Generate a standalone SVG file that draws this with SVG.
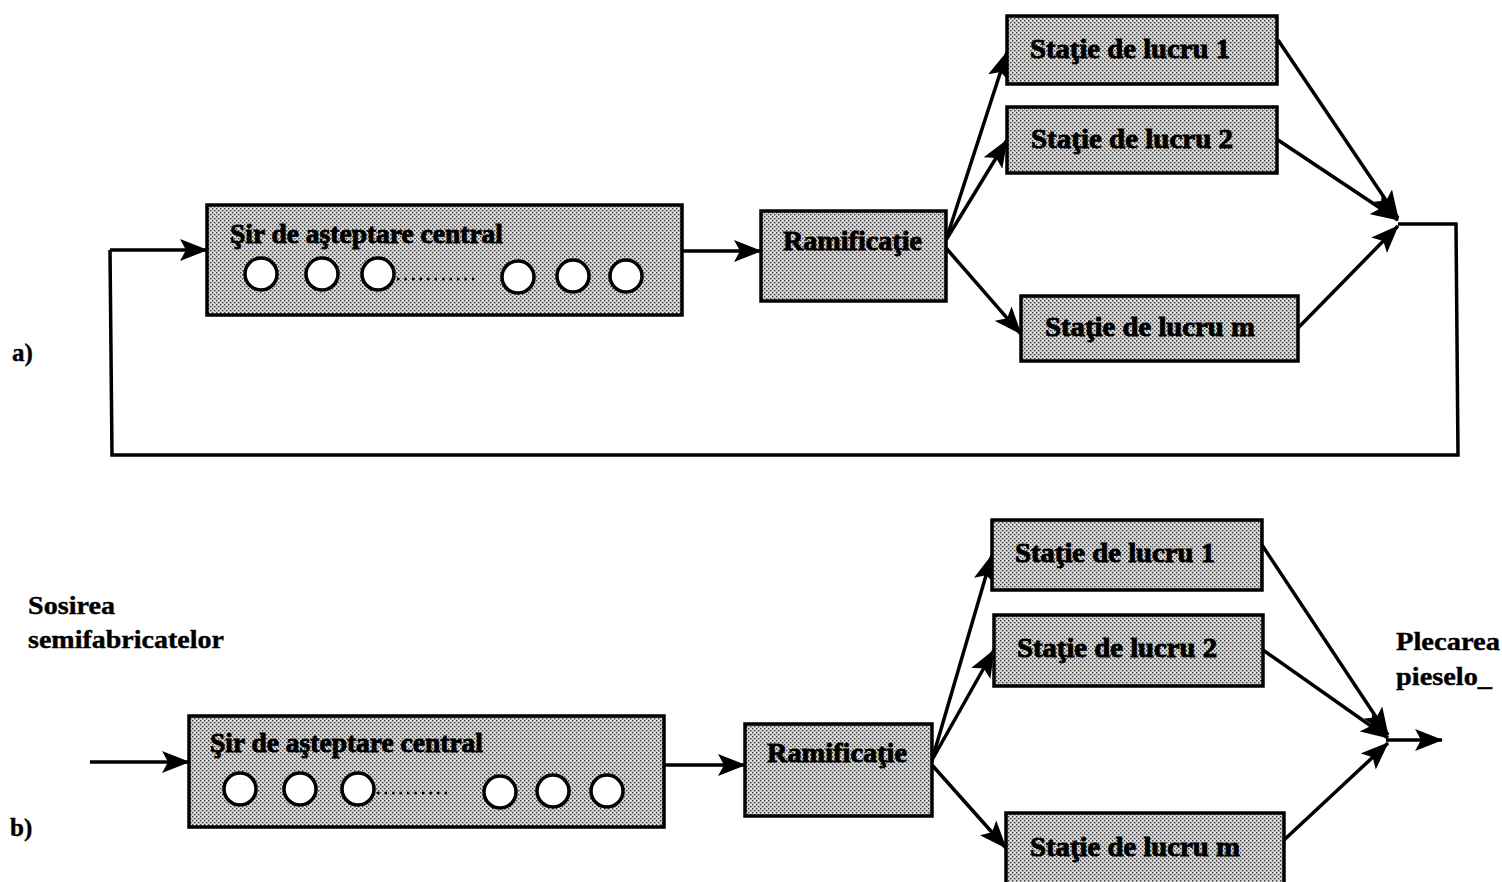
<svg xmlns="http://www.w3.org/2000/svg" width="1502" height="882" viewBox="0 0 1502 882">
  <defs>
    <!-- dithered grey fill used by every block -->
    <pattern id="dither" width="4" height="4" patternUnits="userSpaceOnUse">
      <rect width="4" height="4" fill="#d4d4d4"/>
      <rect x="0" y="0" width="1.4" height="1.4" fill="#3a3a3a"/>
      <rect x="2" y="2" width="1.4" height="1.4" fill="#3a3a3a"/>
      <rect x="2" y="0" width="1" height="1" fill="#ffffff"/>
    </pattern>
    <marker id="arrow" viewBox="0 0 28 22" refX="27" refY="11" markerWidth="28" markerHeight="22" markerUnits="userSpaceOnUse" orient="auto">
      <path d="M0,0 L28,11 L0,22 L6,11 Z" fill="#000"/>
    </marker>
  </defs>
  <style>
    .box { fill: url(#dither); stroke: #000; stroke-width: 3.5; }
    .lbl { font-family: "Liberation Serif", "Times New Roman", serif; font-weight: bold; font-size: 27px; fill: #000; stroke: #000; stroke-width: 0.9; }
    .txt { font-family: "Liberation Serif", "Times New Roman", serif; font-weight: bold; font-size: 25px; fill: #000; stroke: #000; stroke-width: 0.4; }
    .item { fill: #fff; stroke: #000; stroke-width: 3.5; }
    .dots { stroke: #000; stroke-width: 2.5; stroke-dasharray: 2.5 5; fill: none; }
    .wire { stroke: #000; stroke-width: 3.5; fill: none; }
    .arr { stroke: #000; stroke-width: 3.5; fill: none; marker-end: url(#arrow); }
  </style>
  <rect width="1502" height="882" fill="#fff"/>

  <!-- connectors -->
  <g id="connectors">
    <!-- a) closed loop -->
    <path class="arr" d="M682,251 L761,251"/>
    <path class="arr" d="M946,240 L1007,52"/>
    <path class="arr" d="M946,240 L1007,140"/>
    <path class="arr" d="M946,248 L1021,334"/>
    <path class="arr" d="M1278,40 L1398,218"/>
    <path class="arr" d="M1278,140 L1398,220"/>
    <path class="arr" d="M1298,328 L1398,226"/>
    <path class="wire" d="M1398,224 L1456,224 L1458,455 L112,455 L110,250"/>
    <path class="arr" d="M110,250 L207,250"/>
    <!-- b) open line -->
    <path class="arr" d="M90,762 L189,762"/>
    <path class="arr" d="M664,765 L745,765"/>
    <path class="arr" d="M932,760 L992,555"/>
    <path class="arr" d="M932,760 L994,650"/>
    <path class="arr" d="M932,765 L1006,848"/>
    <path class="arr" d="M1262,545 L1388,735"/>
    <path class="arr" d="M1263,650 L1388,738"/>
    <path class="arr" d="M1284,840 L1388,743"/>
    <path class="arr" d="M1386,740 L1442,740"/>
  </g>

  <!-- a) -->
  <g id="a-queue">
    <rect class="box" x="207" y="205" width="475" height="110"/>
    <text class="lbl" x="230" y="243" textLength="273" lengthAdjust="spacingAndGlyphs">Şir de aşteptare central</text>
    <circle class="item" cx="261" cy="274" r="16"/>
    <circle class="item" cx="322" cy="274" r="16"/>
    <circle class="item" cx="378" cy="274" r="16"/>
    <path class="dots" d="M397,279 L474,279"/>
    <circle class="item" cx="518" cy="277" r="16"/>
    <circle class="item" cx="573" cy="276" r="16"/>
    <circle class="item" cx="626" cy="276" r="16"/>
  </g>
  <g id="a-branch">
    <rect class="box" x="761" y="211" width="185" height="90"/>
    <text class="lbl" x="783" y="250" textLength="139" lengthAdjust="spacingAndGlyphs">Ramificaţie</text>
  </g>
  <g id="a-ws1">
    <rect class="box" x="1007" y="16" width="270" height="68"/>
    <text class="lbl" x="1030" y="58" textLength="200" lengthAdjust="spacingAndGlyphs">Staţie de lucru 1</text>
  </g>
  <g id="a-ws2">
    <rect class="box" x="1007" y="107" width="270" height="66"/>
    <text class="lbl" x="1031" y="148" textLength="202" lengthAdjust="spacingAndGlyphs">Staţie de lucru 2</text>
  </g>
  <g id="a-wsm">
    <rect class="box" x="1021" y="296" width="277" height="65"/>
    <text class="lbl" x="1045" y="336" textLength="210" lengthAdjust="spacingAndGlyphs">Staţie de lucru m</text>
  </g>
  <text id="label-a" class="txt" x="12" y="361">a)</text>

  <!-- b) -->
  <g id="b-queue">
    <rect class="box" x="189" y="716" width="475" height="111"/>
    <text class="lbl" x="210" y="752" textLength="273" lengthAdjust="spacingAndGlyphs">Şir de aşteptare central</text>
    <circle class="item" cx="240" cy="789" r="16"/>
    <circle class="item" cx="300" cy="789" r="16"/>
    <circle class="item" cx="358" cy="789" r="16"/>
    <path class="dots" d="M377,793 L452,793"/>
    <circle class="item" cx="500" cy="792" r="16"/>
    <circle class="item" cx="553" cy="791" r="16"/>
    <circle class="item" cx="607" cy="791" r="16"/>
  </g>
  <g id="b-branch">
    <rect class="box" x="745" y="724" width="187" height="92"/>
    <text class="lbl" x="767" y="762" textLength="140" lengthAdjust="spacingAndGlyphs">Ramificaţie</text>
  </g>
  <g id="b-ws1">
    <rect class="box" x="992" y="520" width="270" height="70"/>
    <text class="lbl" x="1015" y="562" textLength="200" lengthAdjust="spacingAndGlyphs">Staţie de lucru 1</text>
  </g>
  <g id="b-ws2">
    <rect class="box" x="994" y="615" width="269" height="71"/>
    <text class="lbl" x="1017" y="657" textLength="200" lengthAdjust="spacingAndGlyphs">Staţie de lucru 2</text>
  </g>
  <g id="b-wsm">
    <rect class="box" x="1006" y="813" width="278" height="80"/>
    <text class="lbl" x="1030" y="856" textLength="210" lengthAdjust="spacingAndGlyphs">Staţie de lucru m</text>
  </g>
  <g id="b-source">
    <text class="txt" x="28" y="614" textLength="87" lengthAdjust="spacingAndGlyphs">Sosirea</text>
    <text class="txt" x="28" y="648" textLength="196" lengthAdjust="spacingAndGlyphs">semifabricatelor</text>
  </g>
  <g id="b-sink">
    <text class="txt" x="1396" y="650" textLength="104" lengthAdjust="spacingAndGlyphs">Plecarea</text>
    <text class="txt" x="1396" y="685" textLength="96" lengthAdjust="spacingAndGlyphs">pieselo_</text>
  </g>
  <text id="label-b" class="txt" x="10" y="836">b)</text>
</svg>
